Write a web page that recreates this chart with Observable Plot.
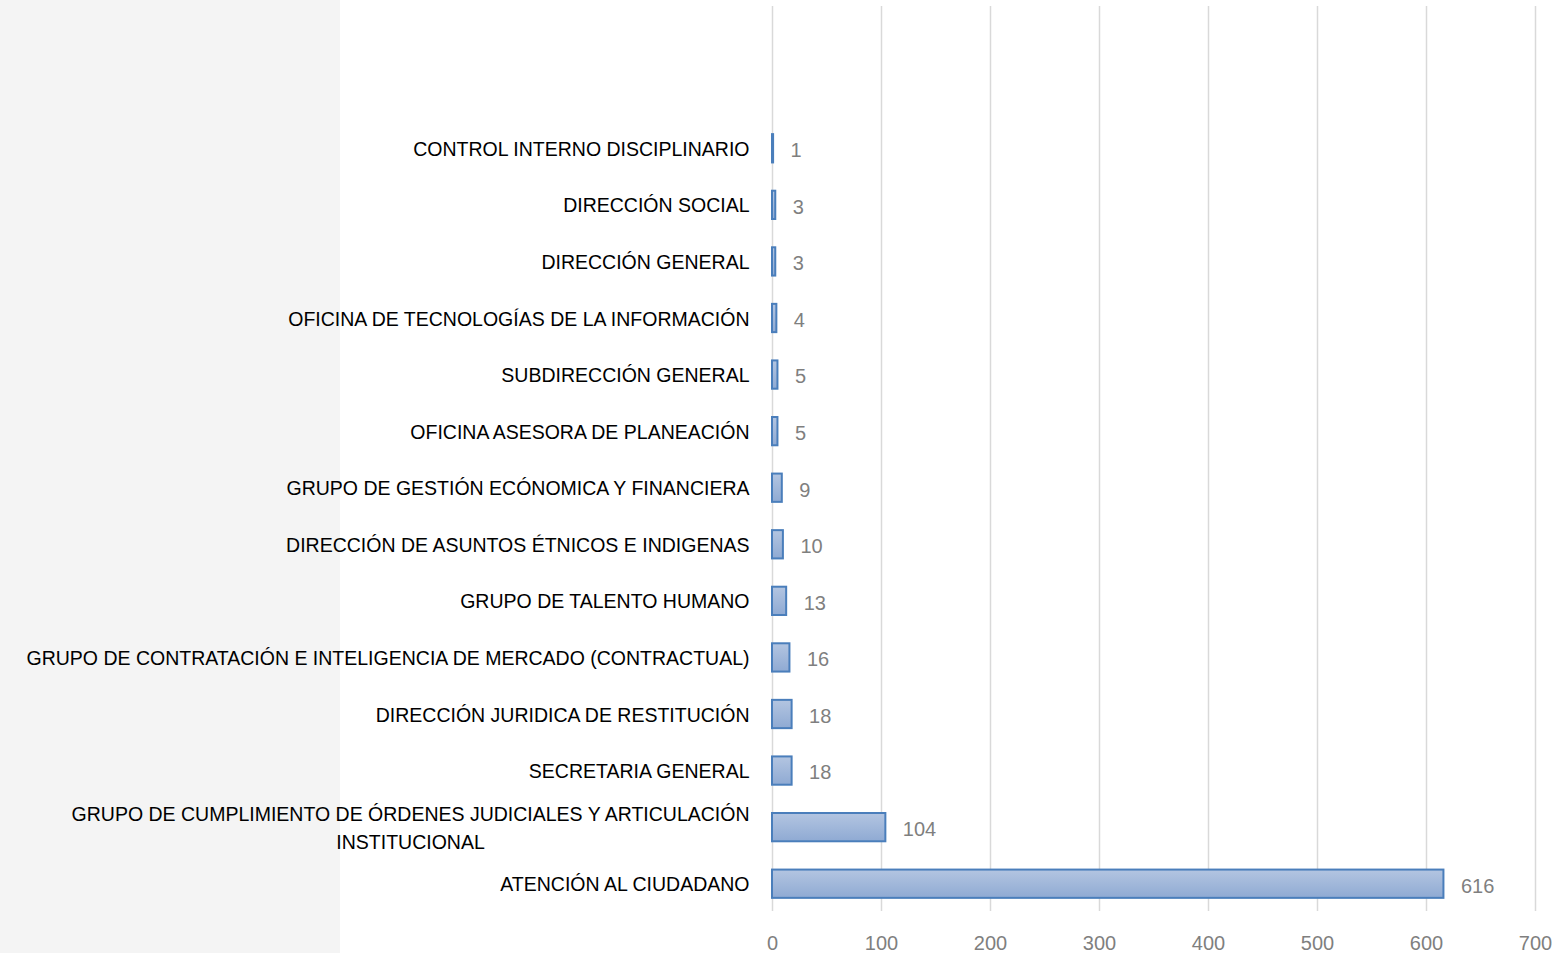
<!DOCTYPE html>
<html>
<head>
<meta charset="utf-8">
<script src="https://cdn.jsdelivr.net/npm/d3@7"></script>
<script src="https://cdn.jsdelivr.net/npm/@observablehq/plot@0.6"></script>
<style>
  html, body { margin: 0; padding: 0; background: #ffffff; }
  #panel { position: absolute; left: 0; top: 0; width: 340px; height: 953px; background: #f4f4f4; }
  #chart { position: absolute; left: 0; top: 0; }
</style>
</head>
<body>
<div id="panel"></div>
<div id="chart"></div>
<script>
const categories = [
  "CONTROL INTERNO DISCIPLINARIO",
  "DIRECCIÓN SOCIAL",
  "DIRECCIÓN GENERAL",
  "OFICINA DE TECNOLOGÍAS DE LA INFORMACIÓN",
  "SUBDIRECCIÓN GENERAL",
  "OFICINA ASESORA DE PLANEACIÓN",
  "GRUPO DE GESTIÓN ECÓNOMICA Y FINANCIERA",
  "DIRECCIÓN DE ASUNTOS ÉTNICOS E INDIGENAS",
  "GRUPO DE TALENTO HUMANO",
  "GRUPO DE CONTRATACIÓN E INTELIGENCIA DE MERCADO (CONTRACTUAL)",
  "DIRECCIÓN JURIDICA DE RESTITUCIÓN",
  "SECRETARIA GENERAL",
  "GRUPO DE CUMPLIMIENTO DE ÓRDENES JUDICIALES Y ARTICULACIÓN INSTITUCIONAL",
  "ATENCIÓN AL CIUDADANO"
];
const values = [1, 3, 3, 4, 5, 5, 9, 10, 13, 16, 18, 18, 104, 616];
const xTicks = [0, 100, 200, 300, 400, 500, 600, 700];
const wrappedLabels = {
  "GRUPO DE CUMPLIMIENTO DE ÓRDENES JUDICIALES Y ARTICULACIÓN INSTITUCIONAL":
    "GRUPO DE CUMPLIMIENTO DE ÓRDENES JUDICIALES Y ARTICULACIÓN\nINSTITUCIONAL"
};

const data = categories.map((c, i) => ({category: c, value: values[i]}));
const font = "'Liberation Sans', Arial, sans-serif";

const chart = Plot.plot({
  width: 1558,
  height: 953,
  marginLeft: 772,
  marginRight: 23,
  marginTop: 6,
  marginBottom: 42,
  style: {fontFamily: font, background: "transparent", overflow: "visible"},
  x: {domain: [0, 700]},
  y: {domain: categories, range: [120, 912], paddingInner: 0.5, paddingOuter: 0.25, round: false},
  marks: [
    Plot.ruleX(xTicks, {stroke: "#d9d9d9", strokeWidth: 1.5}),
    Plot.barX(data, {x: "value", y: "category", fill: "url(#barGrad)", stroke: "#4a7ebb", strokeWidth: 2}),
    Plot.text(data, {x: "value", y: "category", text: d => String(d.value), dx: 17, dy: 2,
      textAnchor: "start", fill: "#7f7f7f", fontSize: 20}),
    Plot.axisX({ticks: xTicks, tickSize: 0, tickPadding: 24, fontSize: 20, fill: "#7f7f7f", label: null}),
    Plot.axisY({tickSize: 0, tickPadding: 23, dy: -2, fontSize: 19.5, fill: "#000000", label: null, lineHeight: 1.45,
      tickFormat: d => wrappedLabels[d] || d})
  ]
});

// gradient for bar fill
const ns = "http://www.w3.org/2000/svg";
const defs = document.createElementNS(ns, "defs");
defs.innerHTML = `<linearGradient id="barGrad" x1="0" y1="0" x2="0" y2="1">
  <stop offset="0%" stop-color="#b3c5e1"/>
  <stop offset="100%" stop-color="#8faad3"/>
</linearGradient>`;
chart.insertBefore(defs, chart.firstChild);
document.getElementById("chart").appendChild(chart);

// center multi-line axis labels
chart.querySelectorAll("text").forEach(t => {
  const spans = t.querySelectorAll("tspan");
  if (spans.length > 1) {
    let w = 0;
    spans.forEach(s => { w = Math.max(w, s.getComputedTextLength()); });
    t.setAttribute("text-anchor", "middle");
    spans.forEach(s => s.setAttribute("x", -w / 2));
  }
});
</script>
</body>
</html>
